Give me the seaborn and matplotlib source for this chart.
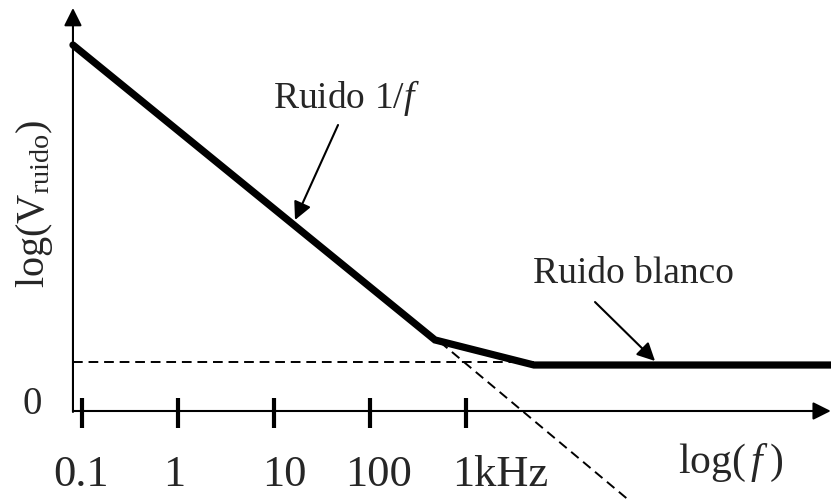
import matplotlib
matplotlib.use("Agg")
import matplotlib.pyplot as plt
import seaborn as sns
import pandas as pd
import numpy as np

# ---- data (log10 units) ----
# piecewise noise curve: 1/f region, transition, white region
curve_logf = [-1.094, 2.677, 3.708, 6.80]
curve_logv = [3.8125, 0.740, 0.479, 0.479]
# asymptotes
white_logf = [-1.094, 3.72]
white_logv = [0.510, 0.510]
flicker_logf = [2.729, 5.02]
flicker_logv = [0.719, -1.20]
# x ticks (decades)
tick_logf = [-1, 0, 1, 2, 3]
tick_labels = ["0.1", "1", "10", "100", "1kHz"]

# ---- style ----
sns.set_style("white")
plt.rcParams["font.family"] = ["Liberation Serif", "DejaVu Serif"]
plt.rcParams["mathtext.fontset"] = "custom"
plt.rcParams["mathtext.rm"] = "Liberation Serif"
plt.rcParams["mathtext.it"] = "Liberation Serif:italic"

fig = plt.figure(figsize=(8.31, 5.01), dpi=100)
ax = fig.add_axes([0, 0, 1, 1])
ax.set_xlim(-1.854, 6.802)
ax.set_ylim(-0.9375, 4.281)
ax.axis("off")

# main curve
sns.lineplot(x=curve_logf, y=curve_logv, ax=ax, color="black", lw=5.2,
             sort=False, estimator=None, solid_joinstyle="miter")
# dashed asymptotes
sns.lineplot(x=white_logf, y=white_logv, ax=ax, color="black", lw=1.4,
             sort=False, estimator=None, linestyle=(0, (5, 3)))
sns.lineplot(x=flicker_logf, y=flicker_logv, ax=ax, color="black", lw=1.4,
             sort=False, estimator=None, linestyle=(0, (5, 3)))

# axes with arrows
x0, y0 = -1.094, 0.0
ax.annotate("", xy=(x0, 4.198), xytext=(x0, -0.01),
            arrowprops=dict(arrowstyle="-|>", lw=1.5, color="black",
                            mutation_scale=27, shrinkA=0, shrinkB=0))
ax.annotate("", xy=(6.80, y0), xytext=(x0, y0),
            arrowprops=dict(arrowstyle="-|>", lw=1.5, color="black",
                            mutation_scale=27, shrinkA=0, shrinkB=0))

# ticks
ax.vlines(tick_logf, -0.177, 0.135, color="black", lw=3)

# tick labels
label_dx = [-0.01, -0.04, 0.11, 0.09, -0.14]
label_ha = ["center", "center", "center", "center", "left"]
for t, lab, dx, ha in zip(tick_logf, tick_labels, label_dx, label_ha):
    ax.text(t + dx, -0.781, lab, ha=ha, va="baseline", fontsize=32)

ax.text(-1.521, 0.0625, "0", ha="center", va="center", fontsize=28)
ax.text(5.76, -0.646, r"log($\,\mathit{f}\;$)", ha="center", va="baseline",
        fontsize=30)
ax.text(-1.49, 2.156, r"log(V$_{\mathrm{ruido}}$)", ha="center", va="center",
        rotation=90, fontsize=29)

# annotations
ax.annotate("", xy=(1.219, 1.990), xytext=(1.667, 2.979),
            arrowprops=dict(arrowstyle="-|>", lw=1.5, color="black",
                            mutation_scale=27, shrinkA=0, shrinkB=0))
ax.text(1.760, 3.156, r"Ruido 1/$\mathit{f}$", ha="center", va="baseline",
        fontsize=27)
ax.annotate("", xy=(4.969, 0.521), xytext=(4.344, 1.135),
            arrowprops=dict(arrowstyle="-|>", lw=1.5, color="black",
                            mutation_scale=27, shrinkA=0, shrinkB=0))
ax.text(4.74, 1.333, "Ruido blanco", ha="center", va="baseline", fontsize=27)

fig.savefig("out.png", dpi=100, facecolor="white")
